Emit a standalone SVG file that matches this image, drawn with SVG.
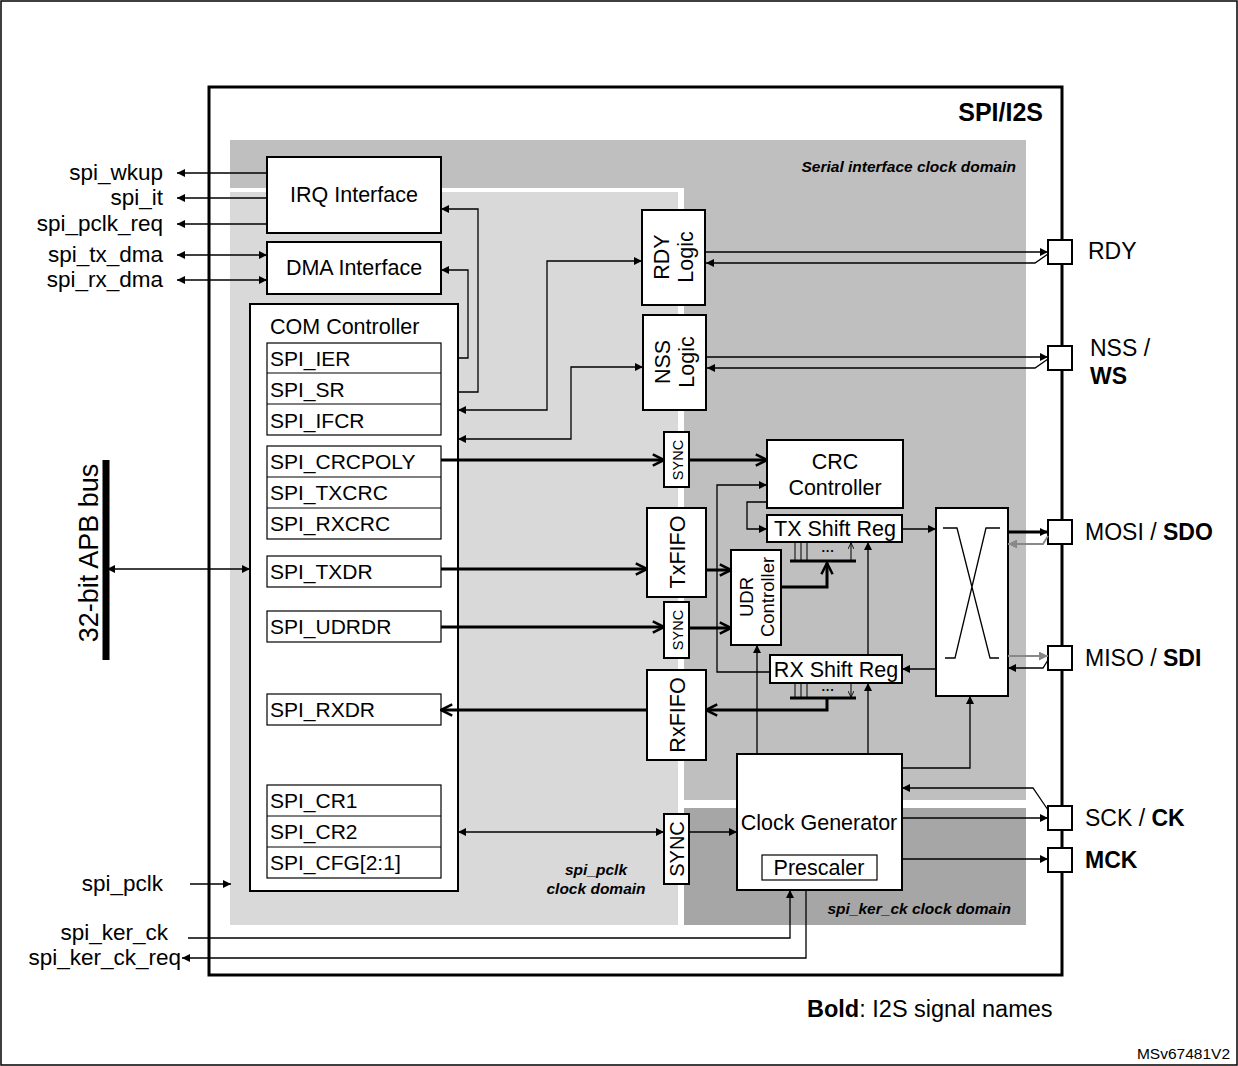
<svg xmlns="http://www.w3.org/2000/svg" width="1238" height="1066" viewBox="0 0 1238 1066">
<style>
text{font-family:"Liberation Sans",Arial,sans-serif;fill:#000}
.b{fill:#fff;stroke:#000;stroke-width:2}
.r{fill:#fff;stroke:#000;stroke-width:1.2}
.t{font-size:23px}
.m{font-size:21.5px}
.s{font-size:21px}
.c{stroke:#000;stroke-width:1.3;fill:none}
.k{stroke:#000;stroke-width:3;fill:none}
.g{stroke:#888;stroke-width:1.8;fill:none}
.d{font-size:15.5px;font-weight:bold;font-style:italic}
</style>
<defs>
<marker id="a" viewBox="0 0 10 10" refX="10" refY="5" markerWidth="10" markerHeight="8" markerUnits="userSpaceOnUse" orient="auto-start-reverse"><path d="M0,0L10,5L0,10z" fill="#000"/></marker>
<marker id="ag" viewBox="0 0 10 10" refX="10" refY="5" markerWidth="12" markerHeight="9" markerUnits="userSpaceOnUse" orient="auto-start-reverse"><path d="M0,0L10,5L0,10z" fill="#888"/></marker>
<marker id="ak" viewBox="0 0 10 10" refX="9" refY="5" markerWidth="14" markerHeight="14" markerUnits="userSpaceOnUse" orient="auto-start-reverse"><path d="M1,1L9,5L1,9" fill="none" stroke="#000" stroke-width="1.8"/></marker>
<marker id="as" viewBox="0 0 10 10" refX="10" refY="5" markerWidth="7" markerHeight="6" markerUnits="userSpaceOnUse" orient="auto"><path d="M0,0L10,5L0,10" fill="none" stroke="#000" stroke-width="1.5"/></marker>
</defs>
<rect x="1" y="1" width="1236" height="1064" fill="#fff" stroke="#000" stroke-width="1.5"/>
<g id="frame">
<rect x="209" y="87" width="853" height="888" fill="#fff" stroke="#000" stroke-width="3"/>
<rect x="230" y="140" width="796" height="660" fill="#bfbfbf"/>
<rect x="230" y="188" width="454" height="737" fill="#fff"/>
<rect x="230" y="192" width="448" height="733" fill="#d9d9d9"/>
<rect x="684" y="808" width="342" height="117" fill="#a6a6a6"/>
<text x="1043" y="121" font-size="25" font-weight="bold" text-anchor="end">SPI/I2S</text>
<text x="1016" y="172" class="d" text-anchor="end">Serial interface clock domain</text>
<text x="596" y="875" class="d" text-anchor="middle">spi_pclk</text>
<text x="596" y="894" class="d" text-anchor="middle">clock domain</text>
<text x="1011" y="914" class="d" text-anchor="end">spi_ker_ck  clock domain</text>
<text x="807" y="1017" font-size="23.5"><tspan font-weight="bold">Bold</tspan>: I2S signal names</text>
<text x="1230" y="1059" font-size="15.5" text-anchor="end">MSv67481V2</text>
</g>
<g id="apb">
<line x1="106" y1="460" x2="106" y2="660" stroke="#000" stroke-width="7"/>
<text transform="translate(98,553) rotate(-90)" font-size="27" text-anchor="middle">32-bit APB bus</text>
</g>
<g id="irq"><rect class="b" x="267" y="157" width="174" height="76"/><text x="354" y="202" class="m" text-anchor="middle">IRQ Interface</text></g>
<g id="dma"><rect class="b" x="267" y="242" width="174" height="52"/><text x="354" y="275" class="m" text-anchor="middle">DMA Interface</text></g>
<g id="com">
<rect class="b" x="250" y="304" width="208" height="587"/>
<text x="270" y="334" class="m">COM Controller</text>
<rect class="r" x="267" y="343" width="174" height="92"/><line x1="267" y1="373" x2="441" y2="373" stroke="#000"/><line x1="267" y1="404" x2="441" y2="404" stroke="#000"/>
<text x="270" y="366" class="s">SPI_IER</text><text x="270" y="397" class="s">SPI_SR</text><text x="270" y="428" class="s">SPI_IFCR</text>
<rect class="r" x="267" y="446" width="174" height="93"/><line x1="267" y1="477" x2="441" y2="477" stroke="#000"/><line x1="267" y1="508" x2="441" y2="508" stroke="#000"/>
<text x="270" y="469" class="s">SPI_CRCPOLY</text><text x="270" y="500" class="s">SPI_TXCRC</text><text x="270" y="531" class="s">SPI_RXCRC</text>
<rect class="r" x="267" y="556" width="174" height="31"/><text x="270" y="579" class="s">SPI_TXDR</text>
<rect class="r" x="267" y="611" width="174" height="31"/><text x="270" y="634" class="s">SPI_UDRDR</text>
<rect class="r" x="267" y="694" width="174" height="31"/><text x="270" y="717" class="s">SPI_RXDR</text>
<rect class="r" x="267" y="785" width="174" height="93"/><line x1="267" y1="816" x2="441" y2="816" stroke="#000"/><line x1="267" y1="847" x2="441" y2="847" stroke="#000"/>
<text x="270" y="808" class="s">SPI_CR1</text><text x="270" y="839" class="s">SPI_CR2</text><text x="270" y="870" class="s">SPI_CFG[2:1]</text>
</g>
<g id="rdy"><rect class="b" x="642" y="210" width="63" height="95"/><text transform="translate(669,257) rotate(-90)" class="m" text-anchor="middle">RDY</text><text transform="translate(693,257) rotate(-90)" class="m" text-anchor="middle">Logic</text></g>
<g id="nss"><rect class="b" x="643" y="315" width="63" height="95"/><text transform="translate(670,362) rotate(-90)" class="m" text-anchor="middle">NSS</text><text transform="translate(694,362) rotate(-90)" class="m" text-anchor="middle">Logic</text></g>
<g id="sync1"><rect class="b" x="664" y="432" width="25" height="55"/><text transform="translate(683,460) rotate(-90)" font-size="14.5" text-anchor="middle">SYNC</text></g>
<g id="sync2"><rect class="b" x="664" y="602" width="25" height="56"/><text transform="translate(683,630) rotate(-90)" font-size="14.5" text-anchor="middle">SYNC</text></g>
<g id="sync3"><rect class="b" x="664" y="814" width="25" height="70"/><text transform="translate(684,849) rotate(-90)" font-size="20" text-anchor="middle">SYNC</text></g>
<g id="crc"><rect class="b" x="767" y="440" width="136" height="68"/><text x="835" y="469" class="m" text-anchor="middle">CRC</text><text x="835" y="495" class="m" text-anchor="middle">Controller</text></g>
<g id="txsr"><rect class="b" x="767" y="515" width="135" height="27"/><text x="835" y="536" class="m" text-anchor="middle">TX Shift Reg</text></g>
<g id="rxsr"><rect class="b" x="770" y="655" width="132" height="28"/><text x="836" y="677" class="m" text-anchor="middle">RX Shift Reg</text></g>
<g id="txfifo"><rect class="b" x="647" y="508" width="59" height="89"/><text transform="translate(685,552) rotate(-90)" class="m" text-anchor="middle">TxFIFO</text></g>
<g id="rxfifo"><rect class="b" x="647" y="670" width="59" height="90"/><text transform="translate(685,715) rotate(-90)" class="m" text-anchor="middle">RxFIFO</text></g>
<g id="udr"><rect class="b" x="731" y="550" width="50" height="95"/><text transform="translate(753,597) rotate(-90)" font-size="18.5" text-anchor="middle">UDR</text><text transform="translate(774,597) rotate(-90)" font-size="18.5" text-anchor="middle">Controller</text></g>
<g id="xbar"><rect class="b" x="936" y="508" width="72" height="188"/><path d="M943,528H957L990,658H999M1000,528H986L955,658H945" class="c" stroke-width="1.8"/></g>
<g id="clkgen"><rect class="b" x="737" y="754" width="165" height="136"/><text x="819" y="830" class="m" text-anchor="middle">Clock Generator</text><rect class="r" x="762" y="855" width="115" height="25"/><text x="819" y="875" class="m" text-anchor="middle">Prescaler</text></g>
<g id="pins">
<rect class="b" x="1048" y="240" width="24" height="24"/><text x="1088" y="259" class="t">RDY</text>
<rect class="b" x="1048" y="346" width="24" height="24"/><text x="1090" y="356" class="t">NSS /</text><text x="1090" y="384" class="t" font-weight="bold">WS</text>
<rect class="b" x="1048" y="520" width="24" height="24"/><text x="1085" y="540" class="t">MOSI / <tspan font-weight="bold">SDO</tspan></text>
<rect class="b" x="1048" y="646" width="24" height="24"/><text x="1085" y="666" class="t">MISO / <tspan font-weight="bold">SDI</tspan></text>
<rect class="b" x="1048" y="806" width="24" height="24"/><text x="1085" y="826" class="t">SCK / <tspan font-weight="bold">CK</tspan></text>
<rect class="b" x="1048" y="848" width="24" height="24"/><text x="1085" y="868" class="t" font-weight="bold">MCK</text>
</g>
<g id="labels" font-size="22.5px">
<text x="163" y="180" text-anchor="end">spi_wkup</text>
<text x="163" y="205" text-anchor="end">spi_it</text>
<text x="163" y="231" text-anchor="end">spi_pclk_req</text>
<text x="163" y="262" text-anchor="end">spi_tx_dma</text>
<text x="163" y="287" text-anchor="end">spi_rx_dma</text>
<text x="163" y="891" text-anchor="end">spi_pclk</text>
<text x="168" y="940" text-anchor="end">spi_ker_ck</text>
<text x="181" y="965" text-anchor="end">spi_ker_ck_req</text>
</g>
<g id="connectors">
<path class="c" d="M267,173H177" marker-end="url(#a)"/>
<path class="c" d="M267,198H177" marker-end="url(#a)"/>
<path class="c" d="M267,224H177" marker-end="url(#a)"/>
<path class="c" d="M267,255H177" marker-start="url(#a)" marker-end="url(#a)"/>
<path class="c" d="M267,280H177" marker-start="url(#a)" marker-end="url(#a)"/>
<path class="c" d="M107,569H250" marker-start="url(#a)" marker-end="url(#a)"/>
<path class="c" d="M190,884H231" marker-end="url(#a)"/>
<path class="c" d="M188,938H790V890" marker-end="url(#a)"/>
<path class="c" d="M806,890V958H182" marker-end="url(#a)"/>
<path class="c" d="M458,392H478V209H441" marker-end="url(#a)"/>
<path class="c" d="M458,358H468V270H441" marker-end="url(#a)"/>
<path class="c" d="M458,410H547V261H642" marker-start="url(#a)" marker-end="url(#a)"/>
<path class="c" d="M458,439H571V367H643" marker-start="url(#a)" marker-end="url(#a)"/>
<path class="c" d="M705,252H1048" marker-end="url(#a)"/>
<path class="c" d="M706,263H1035L1048,254" marker-start="url(#a)"/>
<path class="c" d="M706,357H1048" marker-end="url(#a)"/>
<path class="c" d="M707,368H1035L1048,359" marker-start="url(#a)"/>
<path class="k" d="M441,460H664" marker-end="url(#ak)"/>
<path class="k" d="M689,460H767" marker-end="url(#ak)"/>
<path class="k" d="M441,569H647" marker-end="url(#ak)"/>
<path class="k" d="M706,570H731" marker-end="url(#ak)"/>
<path class="k" d="M441,627H664" marker-end="url(#ak)"/>
<path class="k" d="M689,628H731" marker-end="url(#ak)"/>
<path class="k" d="M647,710H441" marker-end="url(#ak)"/>
<path class="k" d="M827,698V710H706" marker-end="url(#ak)"/>
<path class="k" d="M781,587H827V563" marker-end="url(#ak)"/>
<line x1="790" y1="561" x2="856" y2="561" stroke="#000" stroke-width="3"/>
<line x1="790" y1="698" x2="856" y2="698" stroke="#000" stroke-width="3"/>
<g stroke="#000" stroke-width="1" fill="none">
<path d="M795,560V543M801,560V543M807,560V543M851,560V543" marker-end="url(#as)"/>
<path d="M795,684V697M801,684V697M807,684V697M851,684V697" marker-end="url(#as)"/>
</g>
<text x="828" y="555" font-size="13" font-weight="bold" text-anchor="middle">···</text>
<text x="828" y="694" font-size="13" font-weight="bold" text-anchor="middle">···</text>
<path class="c" d="M770,672H717V485H767" marker-end="url(#a)"/>
<path class="c" d="M767,502H747V529H767" marker-end="url(#a)"/>
<path class="c" d="M902,529H936" marker-end="url(#a)"/>
<path class="c" d="M936,669H902" marker-end="url(#a)"/>
<path class="c" d="M757,754V645" marker-end="url(#a)"/>
<path class="c" d="M868,754V683" marker-end="url(#a)"/>
<path class="c" d="M868,655V542" marker-end="url(#a)"/>
<path class="c" d="M902,768H970V696" marker-end="url(#a)"/>
<path class="k" d="M1008,532H1048" stroke-width="2" marker-end="url(#a)"/>
<path class="g" d="M1048,536L1043,544H1008" marker-end="url(#ag)"/>
<path class="g" d="M1008,656H1048" marker-end="url(#ag)"/>
<path class="c" d="M1048,660L1043,668H1008" stroke-width="2" marker-end="url(#a)"/>
<path class="c" d="M1048,810L1033,788H902" marker-end="url(#a)"/>
<path class="c" d="M902,818H1048" marker-end="url(#a)"/>
<path class="c" d="M902,859H1048" marker-end="url(#a)"/>
<path class="c" d="M458,832H664" marker-start="url(#a)" marker-end="url(#a)"/>
<path class="c" d="M689,832H737" marker-end="url(#a)"/>
</g>
</svg>
